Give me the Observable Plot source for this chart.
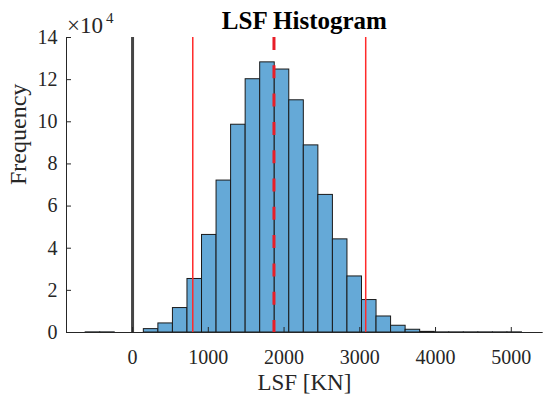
<!DOCTYPE html>
<html><head><meta charset="utf-8">
<script src="https://cdn.jsdelivr.net/npm/d3@7"></script>
<script src="https://cdn.jsdelivr.net/npm/@observablehq/plot@0.6"></script>
<style>body{margin:0;background:#fff}#chart{width:550px;height:403px}#chart svg, #chart svg text{font-family:'Liberation Serif','Times New Roman',serif !important}</style>
</head><body><div id="chart"></div>
<script>
// Histogram bins (edges in kN) and counts
const binEdges = [-619, -427, -235, -43, 149, 341, 533, 725, 917, 1109, 1301, 1493, 1685, 1877, 2069, 2261, 2453, 2645, 2837, 3029, 3221, 3413, 3605, 3797, 3989, 4181, 4373, 4565, 4757, 4949, 5141];
const binCounts = [60, 60, 0, 0, 1600, 4300, 11600, 25400, 46300, 72100, 98600, 120200, 128200, 124800, 110200, 88800, 65300, 44200, 26600, 15400, 7600, 3200, 1300, 300, 60, 60, 60, 60, 60, 60];
const zeroLine = [0];
const boundLines = [795, 3078];
const meanLine = [1867];
const xTicks = [0, 1000, 2000, 3000, 4000, 5000];
const yTicks = [0, 20000, 40000, 60000, 80000, 100000, 120000, 140000];
const xDomain = [-872, 5408];
const yDomain = [0, 140000];
const titleText = "LSF Histogram";
const xLabel = "LSF [KN]";
const yLabel = "Frequency";
const expBase = "×10";
const expPow = "4";

const bins = binCounts.map((c, i) => ({x1: binEdges[i], x2: binEdges[i + 1], count: c})).filter(d => d.count > 0);
const font = "Liberation Serif";
const ink = "#262626";

const plot = Plot.plot({
  width: 550, height: 403,
  marginLeft: 66, marginRight: 8.3, marginTop: 37, marginBottom: 71,
  x: {domain: xDomain},
  y: {domain: yDomain},
  style: {fontFamily: font, background: "white", color: ink, overflow: "visible"},
  marks: [
    Plot.rectY(bins, {x1: "x1", x2: "x2", y: "count", fill: "#65a9d7", stroke: "#1a1a1a", strokeWidth: 1}),
    Plot.ruleX(zeroLine, {y1: yDomain[1], y2: 0, stroke: "#454545", strokeWidth: 3}),
    Plot.ruleX(boundLines, {y1: yDomain[1], y2: 0, stroke: "#ff2a2a", strokeWidth: 1.5}),
    Plot.ruleX(meanLine, {y1: yDomain[1], y2: 0, stroke: "#e81e28", strokeWidth: 3, strokeDasharray: "13,15.3"}),
    Plot.frame({anchor: "bottom", stroke: ink}),
    Plot.frame({anchor: "left", stroke: ink}),
    Plot.axisX({ticks: xTicks, tickSize: -5, tickPadding: 22, fontSize: 20, fontFamily: font, tickFormat: d => String(d), label: null, stroke: ink}),
    Plot.axisY({ticks: yTicks, tickSize: -5, tickPadding: 14, fontSize: 20, fontFamily: font, tickFormat: d => String(d / 1e4), label: null, stroke: ink}),
    Plot.text([titleText], {frameAnchor: "top", dy: -9, lineAnchor: "bottom", fontWeight: "bold", fontSize: 25, fontFamily: font, fill: "#000"}),
    Plot.text([expBase], {frameAnchor: "top-left", textAnchor: "start", dx: 0.5, dy: -4.7, lineAnchor: "bottom", fontSize: 23, fontFamily: font, fill: ink}),
    Plot.text([expPow], {frameAnchor: "top-left", textAnchor: "start", dx: 39.5, dy: -14.3, lineAnchor: "bottom", fontSize: 15, fontFamily: font, fill: ink}),
    Plot.text([xLabel], {frameAnchor: "bottom", dy: 57, lineAnchor: "bottom", fontSize: 23, fontFamily: font, fill: ink}),
    Plot.text([yLabel], {frameAnchor: "left", dx: -41, dy: 0, rotate: -90, lineAnchor: "bottom", fontSize: 24, fontFamily: font, fill: ink})
  ]
});
document.getElementById("chart").appendChild(plot);
</script></body></html>
